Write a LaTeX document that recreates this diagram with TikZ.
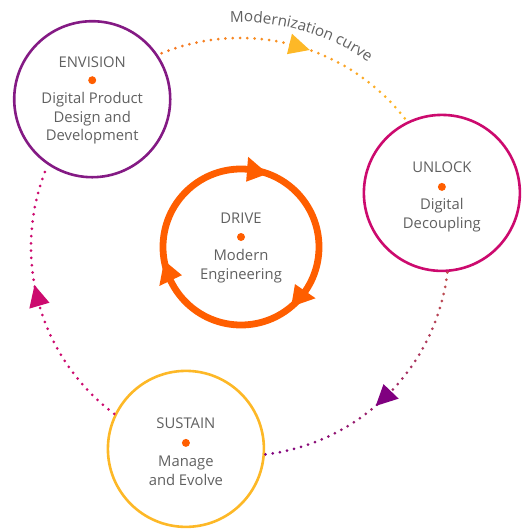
\documentclass[tikz,border=0pt]{standalone}
\usepackage{fontspec}
\setmainfont{Open Sans}
\usetikzlibrary{arrows.meta,decorations.text}
\definecolor{txt}{HTML}{606060}
\definecolor{cenv}{HTML}{841A84}
\definecolor{cunl}{HTML}{CC0A6E}
\definecolor{csus}{HTML}{FDB827}
\definecolor{cdrv}{HTML}{FF5E00}
\definecolor{dotA}{HTML}{F47421}
\definecolor{dotB}{HTML}{FDB827}
\definecolor{dotC}{HTML}{C0504D}
\definecolor{dotD}{HTML}{800080}
\definecolor{dotE}{HTML}{CC0A6E}
\tikzset{
  bigcirc/.style={circle, line width=2.6pt, minimum size=156pt, inner sep=0pt},
  lbl/.style={font=\fontsize{14.8}{18.7}\selectfont, text=txt, align=center, inner sep=0pt},
  cdot/.style={circle, fill=cdrv, minimum size=8pt, inner sep=0pt},
  ringarrow/.style={fill=cdrv},
}
\begin{document}
\begin{tikzpicture}[x=1pt,y=1pt]
\useasboundingbox (0,0) rectangle (525,-532);
\coordinate (C) at (240,-247);
\def\R{209}
% main circles
\node[bigcirc, draw=cenv] (envision) at ([shift={(135:\R)}]C) {};
\node[bigcirc, draw=cunl] (unlock) at ([shift={(15:\R)}]C) {};
\node[bigcirc, draw=csus] (sustain) at ([shift={(-105:\R)}]C) {};
\node[circle, draw=cdrv, line width=6.8pt, minimum size=156pt, inner sep=0pt] (drive) at (241,-247) {};
% texts
\node[lbl] (envT) at ([yshift=37]envision.center) {ENVISION};
\node[cdot] (envD) at ([yshift=19]envision.center) {};
\node[lbl] (envB) at ([yshift=-19]envision.center) {Digital Product\\Design and\\Development};
\node[lbl] (unlT) at ([yshift=26]unlock.center) {UNLOCK};
\node[cdot] (unlD) at ([yshift=6]unlock.center) {};
\node[lbl] (unlB) at ([yshift=-22.5]unlock.center) {Digital\\Decoupling};
\node[lbl] (susT) at ([yshift=26]sustain.center) {SUSTAIN};
\node[cdot] (susD) at ([yshift=6]sustain.center) {};
\node[lbl] (susB) at ([yshift=-22]sustain.center) {Manage\\and Evolve};
\node[lbl] (drvT) at ([yshift=29]drive.center) {DRIVE};
\node[cdot] (drvD) at ([yshift=10]drive.center) {};
\node[lbl] (drvB) at ([yshift=-19.5]drive.center) {Modern\\Engineering};
% ring arrowheads
\foreach \t in {70,190,310}{
  \pgfmathsetmacro\b{\t+15.5}
  \fill[ringarrow] ([shift={(\t:78)}]drive.center) -- ([shift={(\b:90.5)}]drive.center) -- ([shift={(\b:65.5)}]drive.center) -- cycle;
}
% dotted arcs
\foreach \i in {0,...,37}{
  \pgfmathsetmacro\a{112-\i*2}
  \pgfmathtruncatemacro\p{100-\i*100/37}
  \fill[dotA!\p!dotB] ([shift={(\a:\R)}]C) circle (1.5);
}
\foreach \i in {0,...,38}{
  \pgfmathsetmacro\a{-7-\i*2}
  \pgfmathtruncatemacro\p{100-\i*100/38}
  \fill[dotC!\p!dotD] ([shift={(\a:\R)}]C) circle (1.5);
}
\foreach \i in {0,...,37}{
  \pgfmathsetmacro\a{233-\i*2}
  \fill[dotE] ([shift={(\a:\R)}]C) circle (1.5);
}
% arc arrowheads
\fill[csus] ([shift={(70.5:\R)}]C) -- ([shift={(76.3:219.5)}]C) -- ([shift={(76.3:198.5)}]C) -- cycle;
\fill[dotD] ([shift={(-49.5:\R)}]C) -- ([shift={(-43.7:219.5)}]C) -- ([shift={(-43.7:198.5)}]C) -- cycle;
\fill[cunl] ([shift={(190.5:\R)}]C) -- ([shift={(196.3:219.5)}]C) -- ([shift={(196.3:198.5)}]C) -- cycle;
% curve label
\path[decorate, decoration={text along path, text align=left, text color=txt,
  text={|\fontsize{15.2}{15}\selectfont|Modernization curve}}]
  ([shift={(92.5:225)}]C) arc (92.5:40:225);
\end{tikzpicture}
\end{document}
